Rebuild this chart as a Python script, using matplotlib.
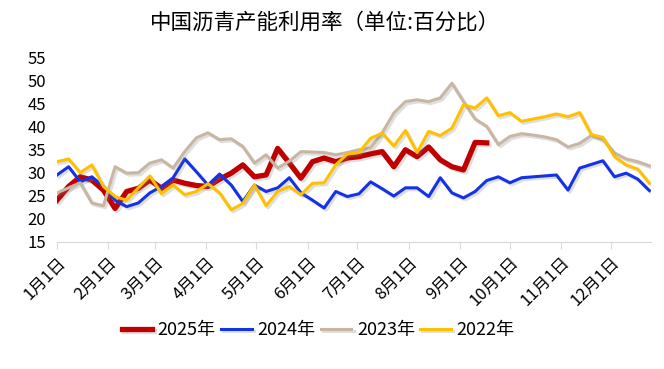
import matplotlib.pyplot as plt
import matplotlib.patheffects as pe
import pandas as pd

plt.rcParams['font.family'] = ['Noto Sans CJK SC', 'DejaVu Sans']

# 周度数据
weeks = pd.date_range('2025-01-01', periods=52, freq='7D')

y2025 = [24, 27, 29.1, 28.4, 26.2, 22.2, 25.9, 26.6, 28.4, 26.6, 28.4, 27.7, 27.2, 27,
         28.6, 29.9, 31.7, 29.1, 29.5, 35.3, 32.1, 28.8, 32.4, 33.2, 32.4, 33.2, 33.5, 34.1,
         34.6, 31.3, 35, 33.5, 35.6, 32.8, 31.3, 30.6, 36.6, 36.5]
y2024 = [29.5, 31.3, 28, 29.1, 27, 24, 22.6, 23.4, 25.6, 27, 28.9, 33, 30.2, 27.3,
         29.7, 27.3, 23.7, 27.3, 25.9, 26.7, 28.9, 25.6, 24, 22.3, 25.9, 24.8, 25.4, 28,
         26.5, 24.9, 26.7, 26.7, 24.8, 28.9, 25.6, 24.5, 25.9, 28.3, 29.1, 27.8, 28.9, 29.1,
         29.3, 29.5, 26.2, 31, 31.8, 32.6, 29.1, 29.9, 28.6, 26.1]
y2023 = [25.6, 26.7, 27.8, 23.4, 22.8, 31.3, 29.9, 30, 32.1, 32.8, 31, 34.6, 37.6, 38.7,
         37.2, 37.4, 35.7, 32.1, 33.9, 31, 32.5, 34.6, 34.5, 34.4, 33.9, 34.4, 35, 35.4,
         38.7, 43, 45.5, 45.9, 45.5, 46.3, 49.5, 45.5, 41.7, 40.1, 36.1, 37.9, 38.5, 38.2,
         37.8, 37.2, 35.6, 36.4, 38.1, 37.2, 34.3, 33, 32.4, 31.5]
y2022 = [32.4, 33, 30, 31.7, 27, 24.8, 24, 26.7, 29.3, 25.4, 27.3, 25.2, 25.9, 27.6,
         25.6, 21.9, 23.3, 27.3, 22.8, 25.9, 27, 25.2, 27.7, 27.8, 31.7, 34.1, 34.4, 37.5,
         38.6, 35.8, 39.2, 34.4, 39, 38.1, 39.7, 44.8, 44.1, 46.3, 42.4, 43.1, 41.2, 41.7,
         42.2, 42.8, 42.2, 43.1, 38.3, 37.7, 33.5, 31.7, 30.8, 27.7]

month_ticks = pd.date_range('2025-01-01', periods=12, freq='MS')
month_labels = ['1月1日', '2月1日', '3月1日', '4月1日', '5月1日', '6月1日',
                '7月1日', '8月1日', '9月1日', '10月1日', '11月1日', '12月1日']

fig = plt.figure(figsize=(6.64, 3.69), dpi=100)
ax = fig.add_axes([57/664, 1-241.5/369, 594/664, 183.5/369])

shadow = [pe.SimpleLineShadow(offset=(1.5, -1.5), shadow_color='gray', alpha=0.25), pe.Normal()]

ax.plot(weeks[:len(y2025)], y2025, color='#C00000', lw=3.8, label='2025年',
        path_effects=shadow, solid_joinstyle='round')
ax.plot(weeks, y2024, color='#1432E6', lw=2.2, label='2024年', path_effects=shadow)
ax.plot(weeks, y2023, color='#C8B6A2', lw=2.2, label='2023年', path_effects=shadow)
ax.plot(weeks, y2022, color='#FFC000', lw=2.2, label='2022年', path_effects=shadow)

ax.set_xlim(pd.Timestamp('2025-01-01'), pd.Timestamp('2025-12-25'))
ax.set_ylim(15, 55)
ax.set_yticks(range(15, 56, 5))
ax.set_xticks(month_ticks)
ax.set_xticklabels(month_labels, rotation=45, ha='right', va='top', rotation_mode='anchor')
ax.tick_params(axis='x', length=5, color='#D9D9D9', pad=4, labelsize=12)
ax.tick_params(axis='y', length=0, pad=8, labelsize=12)

for s in ['top', 'right', 'left']:
    ax.spines[s].set_visible(False)
ax.spines['bottom'].set_color('#D9D9D9')

fig.text(0.49, 0.94, '中国沥青产能利用率（单位:百分比）', ha='center', va='center', fontsize=15.5)

fig.legend(loc='center', bbox_to_anchor=(0.479, 0.106), ncol=4, frameon=False,
           fontsize=13, handlelength=1.7, handletextpad=0.3, columnspacing=0.3)

fig.savefig('out.png', dpi=100)
